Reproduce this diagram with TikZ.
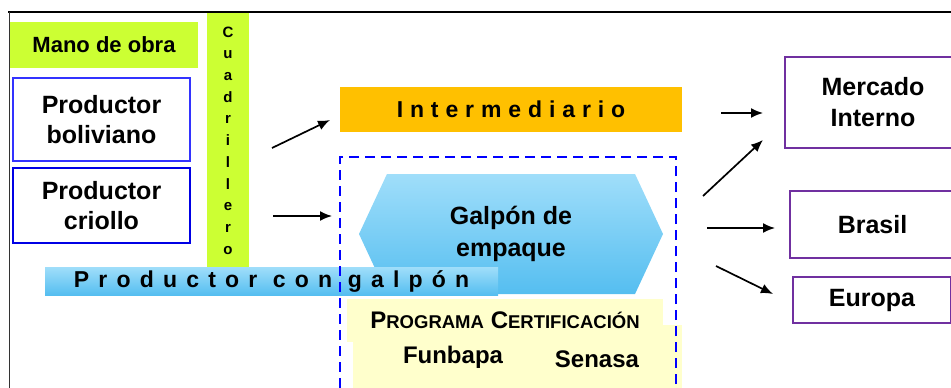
\documentclass[tikz,border=0pt]{standalone}
\usepackage{fontspec}
\setmainfont{Liberation Sans}
\usepackage{tikz}
\usetikzlibrary{positioning, arrows, arrows.meta, shapes, calc}
\definecolor{manogreen}{RGB}{204,255,51}
\definecolor{interorange}{RGB}{255,192,0}
\definecolor{skytop}{RGB}{160,222,250}
\definecolor{skybottom}{RGB}{85,190,240}
\definecolor{certyellow}{RGB}{255,255,204}
\definecolor{marketpurple}{RGB}{112,48,160}
\newcommand{\capsword}[2]{{\fontsize{24}{26}\selectfont #1}{\fontsize{18.5}{26}\selectfont #2}}
\tikzstyle{arrow} = [line width=1.7pt,-{Latex[length=12pt,width=10pt]}]
\tikzstyle{productor} = [rectangle, minimum width=177pt, align=center, draw=blue, font=\fontsize{25}{30}\selectfont\bfseries]
\tikzstyle{greenbox} = [rectangle, fill=manogreen, inner sep=0pt]
\tikzstyle{skybox} = [top color=skytop, bottom color=skybottom, inner sep=0pt]
\tikzstyle{certbox} = [rectangle, fill=certyellow, inner sep=0pt]
\tikzstyle{market} = [rectangle, align=center, draw=marketpurple, line width=2pt, font=\fontsize{25}{31}\selectfont\bfseries]
\tikzstyle{plainlabel} = [font=\fontsize{24}{28}\selectfont\bfseries]

\begin{document}
\begin{tikzpicture}[x=1pt, y=-1pt]
        \useasboundingbox (0,0) rectangle (951,388);
        \draw [line width=2pt] (8,12) -- (951,12);
        \draw [line width=1pt, black!80] (9,12) -- (9,390);

        \node (manoobra) [greenbox, minimum width=188pt, minimum height=46pt, font=\fontsize{22}{26}\selectfont\bfseries] at (104,45) {Mano de obra};
        \node (boliviano) [productor, minimum height=83pt, line width=1.2pt, draw=blue!80] at (101.5,119.5) {Productor\\boliviano};
        \node (criollo) [productor, minimum height=75pt, line width=2pt, draw=blue!90!black] at (101.5,205.5) {Productor\\criollo};
        \node (cuadrillero) [greenbox, minimum width=42pt, minimum height=255pt, align=center, font=\fontsize{15}{21.7}\selectfont\bfseries] at (228,140.5) {C\\u\\a\\d\\r\\i\\l\\l\\e\\r\\o};

        \node (intermediario) [rectangle, fill=interorange, minimum width=342pt, minimum height=45pt, font=\fontsize{23}{26}\selectfont\bfseries\addfontfeature{LetterSpace=30}] at (511,109.5) {Intermediario};
        \node (galpon) [signal, signal to=west and east, signal pointer angle=130, skybox, minimum width=304pt, minimum height=120pt, align=center, font=\fontsize{25}{32}\selectfont\bfseries] at (511,234) {Galpón de\\empaque};
        \node (congalpon) [skybox, rectangle, minimum width=453pt, minimum height=28pt, font=\fontsize{23}{26}\selectfont\bfseries\addfontfeature{LetterSpace=40}] at (271.5,281) {Productor con galpón};

        \node (entidades) [certbox, minimum width=329pt, minimum height=75pt] at (517.5,362.5) {};
        \node (programa) [certbox, minimum width=316pt, minimum height=43pt, font=\bfseries] at (505,320.5) {\capsword{P}{ROGRAMA}\hspace{4pt} \capsword{C}{ERTIFICACIÓN}};
        \node (funbapa) [plainlabel] at (453,357) {Funbapa};
        \node (senasa) [plainlabel] at (597,359) {Senasa};
        \node (galponframe) [rectangle, draw=blue, dashed, dash pattern=on 10pt off 6pt, line width=2.5pt, minimum width=336pt, minimum height=243pt] at (508,278.5) {};

        \node (mercado) [market, minimum width=176pt, minimum height=91pt] at (873,102.5) {Mercado\\Interno};
        \node (brasil) [market, minimum width=165pt, minimum height=67pt] at (872.5,224.5) {Brasil};
        \node (europa) [market, minimum width=158pt, minimum height=46pt] at (872,300) {Europa};

        \coordinate (s1) at (272,148);
        \coordinate (e1) at (330,120);
        \coordinate (s2) at (273,216);
        \coordinate (e2) at (332,216);
        \coordinate (s3) at (721,113);
        \coordinate (e3) at (763,113);
        \coordinate (s4) at (703,196);
        \coordinate (e4) at (763,140);
        \coordinate (s5) at (707,228);
        \coordinate (e5) at (775,228);
        \coordinate (s6) at (716,266);
        \coordinate (e6) at (773,294);

        \draw [arrow] (s1) -- (e1);
        \draw [arrow] (s2) -- (e2);
        \draw [arrow] (s3) -- (e3);
        \draw [arrow] (s4) -- (e4);
        \draw [arrow] (s5) -- (e5);
        \draw [arrow] (s6) -- (e6);

        \end{tikzpicture}
\end{document}
